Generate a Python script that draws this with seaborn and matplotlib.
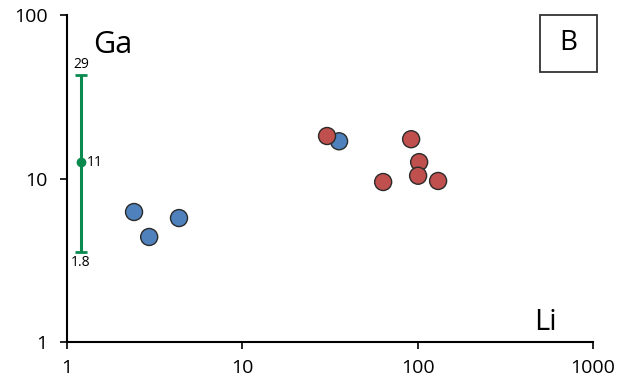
import matplotlib
matplotlib.use("Agg")
import matplotlib.pyplot as plt
import matplotlib.patches as mpatches
import seaborn as sns
import pandas as pd
from matplotlib.ticker import FixedLocator, NullLocator

sns.set_style("white")
plt.rcParams['font.family'] = ['Open Sans', 'DejaVu Sans']
plt.rcParams['text.color'] = 'black'
plt.rcParams['xtick.color'] = 'black'
plt.rcParams['ytick.color'] = 'black'

# data
blue_li = [2.41, 2.94, 4.35, 35.6]
blue_ga = [6.24, 4.39, 5.73, 16.9]
red_li = [30.4, 63.5, 91.7, 101.9, 100.5, 130.7]
red_ga = [18.2, 9.52, 17.4, 12.6, 10.4, 9.66]
range_x = 1.2
range_mid, range_hi, range_lo = 12.6, 43.0, 3.55
range_labels = ["29", "11", "1.8"]
x_ticks = [1, 10, 100, 1000]
y_ticks = [1, 10, 100]

df = pd.DataFrame({
    "Li": blue_li + red_li,
    "Ga": blue_ga + red_ga,
    "grp": ["blue"] * len(blue_li) + ["red"] * len(red_li),
})

fig = plt.figure(figsize=(6.21, 3.86), dpi=100)
ax = fig.add_axes([0.108, 0.114, 0.847, 0.847])

# error bar
ax.errorbar([range_x], [range_mid],
            yerr=[[range_mid - range_lo], [range_hi - range_mid]],
            fmt='o', color='#0A8A4E', ms=6, lw=2.2, capsize=4, capthick=2.0, zorder=2)
ax.text(range_x, range_hi * 1.04, range_labels[0], ha='center', va='bottom', fontsize=10)
ax.text(range_x * 1.08, range_mid, range_labels[1], ha='left', va='center', fontsize=10)
ax.text(range_x, range_lo * 0.96, range_labels[2], ha='center', va='top', fontsize=10)

sns.scatterplot(data=df, x="Li", y="Ga", hue="grp",
                palette={"blue": "#4F81BD", "red": "#C0504D"},
                s=150, edgecolor="#2b2b2b", linewidth=1.0, legend=False, ax=ax, zorder=3)

ax.set_xscale("log")
ax.set_yscale("log")
ax.set_xlim(1, 1000)
ax.set_ylim(1, 100)
ax.xaxis.set_major_locator(FixedLocator(x_ticks))
ax.yaxis.set_major_locator(FixedLocator(y_ticks))
ax.xaxis.set_minor_locator(NullLocator())
ax.yaxis.set_minor_locator(NullLocator())
ax.set_xticklabels([str(t) for t in x_ticks])
ax.set_yticklabels([str(t) for t in y_ticks])
ax.tick_params(axis='both', which='major', direction='out', length=5, width=1.2,
               labelsize=14, color='black', labelcolor='black', left=True, bottom=True)
ax.tick_params(axis='x', pad=7)
ax.tick_params(axis='y', pad=9)
for side in ["top", "right"]:
    ax.spines[side].set_visible(False)
for side in ["left", "bottom"]:
    ax.spines[side].set_color("black")
    ax.spines[side].set_linewidth(1.5)
ax.set_xlabel("")
ax.set_ylabel("")

ax.text(0.049, 0.884, "Ga", transform=ax.transAxes, fontsize=22, ha='left', va='baseline')
ax.text(0.888, 0.037, "Li", transform=ax.transAxes, fontsize=21, ha='left', va='baseline')
box = mpatches.Rectangle((0.899, 0.826), 0.108, 0.174, transform=ax.transAxes,
                         fc='white', ec='#333333', lw=1.3, clip_on=False, zorder=5)
ax.add_patch(box)
ax.text(0.953, 0.913, "B", transform=ax.transAxes, fontsize=20, ha='center', va='center', zorder=6)

fig.savefig("out.png", dpi=100)
